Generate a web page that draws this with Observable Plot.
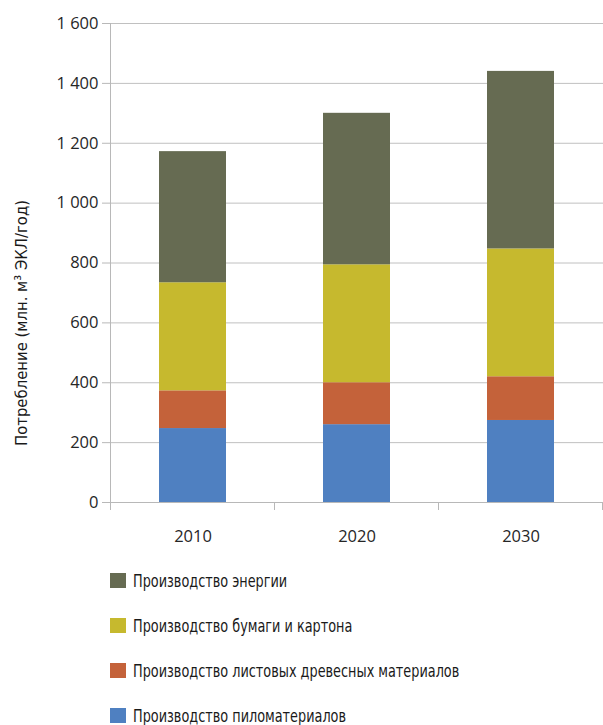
<!DOCTYPE html>
<html>
<head>
<meta charset="utf-8">
<script src="https://cdn.jsdelivr.net/npm/d3@7"></script>
<script src="https://cdn.jsdelivr.net/npm/@observablehq/plot@0.6"></script>
<style>
  html, body { margin: 0; padding: 0; background: #fff; }
  #chart { width: 603px; }
  .legend { margin: -2px 0 0 110px; font-family: "DejaVu Sans Condensed", "Liberation Sans Narrow", sans-serif; font-size: 17px; color: #1a1a1a; }
  .legend .row { display: flex; align-items: center; height: 45px; white-space: nowrap; }
  .legend .sw { width: 16px; height: 15px; margin-right: 7px; flex: none; }
  .legend .lbl { display: inline-block; transform: scaleX(0.84); transform-origin: left center; }
</style>
</head>
<body>
<div id="chart"></div>
<script>
// Consumption of wood by sector, million m³ roundwood equivalent per year
const years = ["2010", "2020", "2030"];
const sectors = [
  "Производство пиломатериалов",
  "Производство листовых древесных материалов",
  "Производство бумаги и картона",
  "Производство энергии"
];
const sawnwood = [247, 260, 274];
const panels   = [126, 140, 146];
const paper    = [361, 394, 427];
const energy   = [438, 506, 593];
const colors = ["#4f80c1", "#c4623a", "#c6b92e", "#666b52"];
const yTicks = [0, 200, 400, 600, 800, 1000, 1200, 1400, 1600];
const yLabel = "Потребление (млн. м³ ЭКЛ/год)";

const series = [sawnwood, panels, paper, energy];
const rows = [];
sectors.forEach((s, i) => years.forEach((y, j) => rows.push({year: y, sector: s, value: series[i][j]})));

const fmt = d => d >= 1000 ? `${Math.floor(d / 1000)} ${String(d % 1000).padStart(3, "0")}` : `${d}`;

const tickFont = `"Open Sans", "Noto Sans", sans-serif`;
const plot = Plot.plot({
  width: 603,
  height: 560,
  marginTop: 23,
  marginLeft: 110,
  marginRight: 0,
  marginBottom: 58,
  style: {fontFamily: tickFont, fontSize: "16.5px", color: "#262626", background: "#fff"},
  x: {domain: years, paddingInner: 0.59, paddingOuter: 0.295},
  y: {domain: [0, 1600]},
  color: {domain: sectors, range: colors},
  marks: [
    Plot.gridY(yTicks, {stroke: "#c0c0c0", strokeOpacity: 1}),
    Plot.barY(rows, {x: "year", y: "value", fill: "sector", order: sectors}),
    Plot.ruleY([0], {stroke: "#b8b8b8"}),
    Plot.frame({anchor: "left", stroke: "#b8b8b8"}),
    Plot.axisY(yTicks, {tickSize: 8, tickPadding: 4, tickFormat: fmt, stroke: "#b8b8b8", fill: "#262626", label: null}),
    Plot.axisX({tickSize: 0, tickPadding: 28, label: null, fill: "#262626"})
  ]
});

// tick marks at category boundaries on the x axis
const sx = plot.scale("x");
const gap = (sx.step - sx.bandwidth) / 2;
const bounds = years.map(y => sx.apply(y) - gap).concat([sx.apply(years[years.length - 1]) + sx.bandwidth + gap]);
const y0 = plot.scale("y").apply(0);
d3.select(plot).append("g")
  .attr("stroke", "#b8b8b8")
  .selectAll("line").data(bounds).join("line")
  .attr("x1", d => d).attr("x2", d => d)
  .attr("y1", y0).attr("y2", y0 + 8);

// vertical axis title
d3.select(plot).append("text")
  .attr("transform", "translate(21,323) rotate(-90)")
  .attr("text-anchor", "middle")
  .attr("dominant-baseline", "central")
  .attr("font-family", `"DejaVu Sans Condensed", "Liberation Sans Narrow", sans-serif`)
  .attr("font-size", 16.5)
  .attr("fill", "#1a1a1a")
  .text(yLabel);

document.getElementById("chart").append(plot);

// legend, top to bottom in reverse stacking order
const legend = d3.select("#chart").append("div").attr("class", "legend");
const items = sectors.map((s, i) => ({s, c: colors[i]})).reverse();
const row = legend.selectAll(".row").data(items).join("div").attr("class", "row");
row.append("div").attr("class", "sw").style("background", d => d.c);
row.append("span").attr("class", "lbl").text(d => d.s);
</script>
</body>
</html>
